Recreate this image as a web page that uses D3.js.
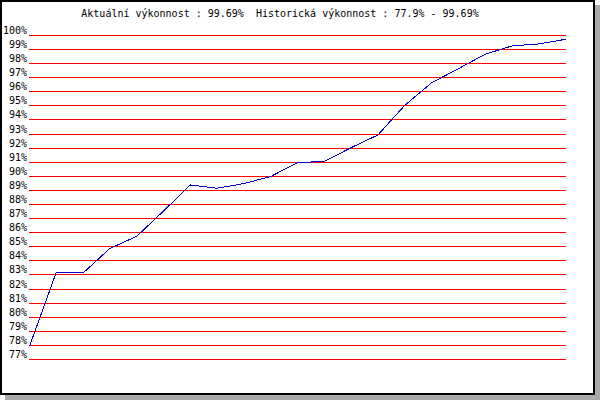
<!DOCTYPE html>
<html>
<head>
<meta charset="utf-8">
<script src="https://cdn.jsdelivr.net/npm/d3@7"></script>
<style>
  html, body { margin: 0; padding: 0; background: #ffffff; }
  svg { display: block; }
  text { font-family: "DejaVu Sans Mono", "Liberation Mono", monospace; font-size: 10px; fill: #000; }
</style>
</head>
<body>
<script>
// ---- data ----
const titleText = "Aktuální výkonnost : 99.69%  Historická výkonnost : 77.9% - 99.69%";
const pointIndex = [0,1,2,3,4,5,6,7,8,9,10,11,12,13,14,15,16,17,18,19,20];
const performance = [77.9, 83.15, 83.1, 84.85, 85.7, 87.5, 89.35, 89.12, 89.45, 89.95,
                     90.94, 91.02, 92.0, 92.9, 95.0, 96.6, 97.6, 98.63, 99.22, 99.36, 99.69];
const yTicks = [77,78,79,80,81,82,83,84,85,86,87,88,89,90,91,92,93,94,95,96,97,98,99,100];

const W = 600, H = 400;
const svg = d3.select("body").append("svg").attr("width", W).attr("height", H);

// frame with shadow
svg.append("rect").attr("x", 5).attr("y", 5).attr("width", 595).attr("height", 395).attr("fill", "#aaaaaa");
svg.append("rect").attr("x", 1).attr("y", 1).attr("width", 593).attr("height", 393)
   .attr("fill", "#ffffff").attr("stroke", "#000").attr("stroke-width", 2);

const x = d3.scaleLinear().domain([0, pointIndex.length - 1]).range([29.5, 565.5]);
const y = d3.scaleLinear().domain([77, 100]).range([358.95, 34.95]);

// gridlines
svg.append("g").selectAll("line").data(yTicks).join("line")
  .attr("x1", 29).attr("x2", 566)
  .attr("y1", d => Math.round(y(d)) + 0.5).attr("y2", d => Math.round(y(d)) + 0.5)
  .attr("stroke", "#ff0000").attr("stroke-width", 1).attr("shape-rendering", "crispEdges");

// y labels
svg.append("g").selectAll("text").data(yTicks).join("text")
  .attr("x", 27).attr("y", d => Math.round(y(d)) - 1)
  .attr("text-anchor", "end")
  .text(d => d + "%");

// title
svg.append("text").attr("x", 280).attr("y", 17).attr("text-anchor", "middle")
  .attr("xml:space", "preserve").style("white-space", "pre").text(titleText);

// line
const line = d3.line().x((d, i) => x(pointIndex[i])).y(d => y(d));
svg.append("path").datum(performance).attr("d", line)
  .attr("fill", "none").attr("stroke", "#0000cc").attr("stroke-width", 1)
  .attr("shape-rendering", "crispEdges");
</script>
</body>
</html>
